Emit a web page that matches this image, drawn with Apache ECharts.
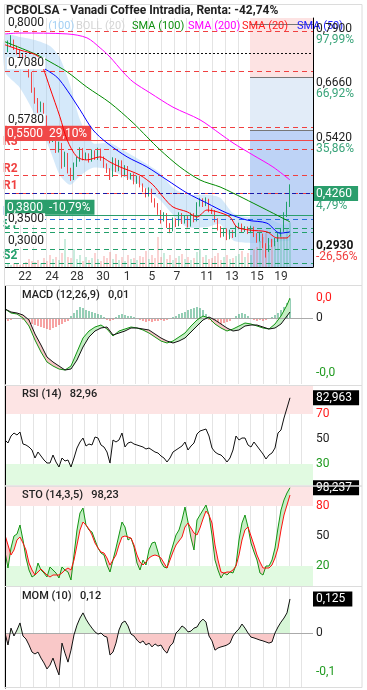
<!DOCTYPE html>
<html>
<head>
<meta charset="utf-8">
<script src="https://cdn.jsdelivr.net/npm/echarts@6/dist/echarts.min.js"></script>
<style>
html, body { margin: 0; padding: 0; background: #fff; }
#main { width: 367px; height: 690px; }
</style>
</head>
<body>
<div id="main"></div>
<script>
// etiquetas de días del eje x y su posición (en índice de vela)
const days = ['22', '24', '28', '30', '1', '5', '7', '11', '13', '15', '19'];
const dayPos = [6.7, 15.7, 24, 32.7, 40.7, 49, 57.3, 67.3, 75.7, 84, 92];

// velas: [apertura, cierre, mínimo, máximo]
const ohlc = [
  [0.730,0.738,0.724,0.745],[0.738,0.750,0.733,0.760],[0.750,0.756,0.745,0.772],[0.756,0.743,0.738,0.762],
  [0.743,0.734,0.728,0.748],[0.734,0.727,0.720,0.740],[0.727,0.720,0.714,0.731],[0.720,0.711,0.705,0.726],
  [0.711,0.681,0.675,0.716],[0.681,0.646,0.640,0.688],[0.646,0.623,0.615,0.652],[0.623,0.601,0.594,0.628],
  [0.601,0.612,0.596,0.620],[0.612,0.582,0.575,0.617],[0.582,0.555,0.548,0.588],[0.555,0.532,0.524,0.560],
  [0.532,0.543,0.527,0.552],[0.543,0.509,0.502,0.548],[0.509,0.520,0.503,0.528],[0.520,0.474,0.466,0.525],
  [0.474,0.497,0.470,0.505],[0.497,0.463,0.455,0.502],[0.463,0.445,0.438,0.468],[0.445,0.474,0.440,0.480],
  [0.474,0.486,0.470,0.493],[0.486,0.509,0.482,0.515],[0.509,0.490,0.485,0.513],[0.490,0.497,0.486,0.503],
  [0.497,0.486,0.480,0.501],[0.486,0.504,0.482,0.510],[0.504,0.490,0.486,0.508],[0.490,0.509,0.486,0.514],
  [0.509,0.490,0.484,0.512],[0.490,0.474,0.468,0.494],[0.474,0.463,0.456,0.478],[0.463,0.451,0.440,0.467],
  [0.451,0.486,0.447,0.492],[0.486,0.463,0.458,0.490],[0.463,0.481,0.460,0.486],[0.481,0.451,0.446,0.485],
  [0.451,0.468,0.448,0.474],[0.468,0.445,0.440,0.472],[0.445,0.451,0.441,0.456],[0.451,0.435,0.430,0.455],
  [0.435,0.445,0.431,0.450],[0.445,0.428,0.423,0.449],[0.428,0.417,0.412,0.432],[0.417,0.406,0.400,0.421],
  [0.406,0.417,0.402,0.423],[0.417,0.394,0.388,0.420],[0.394,0.383,0.377,0.398],[0.383,0.367,0.360,0.387],
  [0.367,0.348,0.340,0.371],[0.348,0.360,0.345,0.366],[0.360,0.337,0.330,0.364],[0.337,0.325,0.318,0.341],
  [0.325,0.348,0.322,0.354],[0.348,0.337,0.332,0.352],[0.337,0.360,0.334,0.366],[0.360,0.344,0.339,0.364],
  [0.344,0.353,0.340,0.358],[0.353,0.337,0.331,0.357],[0.337,0.360,0.333,0.365],[0.360,0.348,0.343,0.364],
  [0.348,0.383,0.345,0.389],[0.383,0.394,0.379,0.399],[0.394,0.383,0.378,0.398],[0.383,0.394,0.380,0.400],
  [0.394,0.371,0.366,0.397],[0.371,0.367,0.362,0.375],[0.367,0.348,0.343,0.371],[0.348,0.330,0.324,0.352],
  [0.330,0.314,0.308,0.334],[0.314,0.325,0.310,0.330],[0.325,0.307,0.302,0.329],[0.307,0.321,0.304,0.326],
  [0.321,0.312,0.307,0.325],[0.312,0.330,0.309,0.335],[0.330,0.337,0.327,0.342],[0.337,0.325,0.320,0.340],
  [0.325,0.330,0.321,0.334],[0.330,0.321,0.316,0.333],[0.321,0.330,0.318,0.335],[0.330,0.314,0.309,0.333],
  [0.314,0.302,0.296,0.318],[0.302,0.314,0.299,0.319],[0.314,0.291,0.284,0.317],[0.291,0.279,0.262,0.295],
  [0.279,0.302,0.275,0.307],[0.302,0.291,0.286,0.305],[0.291,0.302,0.288,0.307],[0.302,0.314,0.298,0.318],
  [0.314,0.325,0.310,0.330],[0.325,0.360,0.321,0.366],[0.360,0.383,0.355,0.390],[0.383,0.412,0.378,0.430]
];

const volume = [
  2,3,2,4,3,2,3,5,8,6,5,7,
  4,9,6,12,8,10,7,14,28,10,9,18,
  8,12,6,10,7,9,14,8,6,11,9,15,
  8,13,7,10,6,12,8,9,7,11,10,16,
  8,12,9,30,10,14,8,12,7,9,11,13,
  8,10,7,9,15,18,10,12,8,9,11,14,
  7,10,12,8,9,11,13,16,10,14,12,18,
  20,26,30,34,22,28,26,32,35,30,38,45
];

// medias móviles: [índice, valor]
const sma20 = [[0,0.750],[5,0.738],[11,0.724],[12.7,0.697],[15,0.651],[18.3,0.585],[20.7,0.532],[24,0.493],
  [27.3,0.486],[31.7,0.493],[35,0.481],[38.3,0.470],[45,0.451],[49.3,0.429],[52.7,0.401],[56,0.378],
  [60.7,0.367],[64,0.355],[67.3,0.371],[70.7,0.367],[75,0.355],[77.3,0.332],[81.7,0.325],[87.3,0.321],
  [90.7,0.307],[94,0.307],[95,0.314]];
const sma50 = [[12.7,0.697],[17.3,0.676],[20.7,0.646],[25,0.601],[29.3,0.555],[34,0.525],[40.7,0.493],
  [47.3,0.470],[54,0.440],[60.7,0.410],[67.3,0.387],[74,0.364],[80.7,0.348],[87.3,0.341],[91.7,0.318],[95,0.321]];
const sma100 = [[0,0.757],[10.7,0.727],[15,0.711],[20.7,0.688],[27.3,0.653],[35,0.617],[42.7,0.571],
  [47.3,0.539],[51.7,0.509],[58.3,0.470],[65,0.440],[71.7,0.424],[76,0.410],[82.7,0.387],[87.3,0.371],[95,0.344]];
const sma200 = [[0,0.775],[5,0.777],[20.7,0.775],[27.3,0.766],[31.7,0.743],[35,0.722],[39.3,0.688],
  [42.7,0.665],[48.3,0.640],[56,0.607],[65,0.578],[71.7,0.546],[76,0.525],[82.7,0.497],[89.3,0.470],[95,0.440]];

// bandas de Bollinger
const bollX = [0,5,10,15,18.3,21.7,25,29.3,35,39.3,45,51.7,56,60.7,67.3,71.7,76,80.7,87.3,92.7,95];
const bollUp = [0.773,0.768,0.761,0.747,0.720,0.658,0.578,0.525,0.525,0.509,0.486,0.456,0.422,0.406,0.406,0.399,0.364,0.355,0.353,0.337,0.341];
const bollLow = [0.688,0.651,0.589,0.509,0.451,0.429,0.449,0.468,0.463,0.449,0.429,0.394,0.360,0.332,0.332,0.339,0.302,0.296,0.296,0.300,0.302];

// niveles horizontales
const redDashLv = [0.7824, 0.6916, 0.5615];
const dotLv = [0.7267];
const tealDashLv = [0.3328, 0.2847];
const pivotTxt = ['R3', 'R2', 'R1', 'Pivot', 'S1', 'S2'];
const pivotLv = [0.5127, 0.4491, 0.4147, 0.3498, 0.3154, 0.2489];
const alertLv = [0.5333, 0.3636];
const alertTxt = ['0,5500  29,10%', '0,3800  -10,79%'];
const lastLv = 0.4108;
const lastTxt = ['0,4260', '4,79%'];
const fibLv = [0.7978, 0.6762, 0.5546];
const fibLabelLv = [0.79, 0.666, 0.542, 0.293];
const fibLabelTxt = [['0,7900', '97,99%'], ['0,6660', '66,92%'], ['0,5420', '35,86%'], ['0,2930', '-26,56%']];
const leftTicks = [0.8, 0.708, 0.578, 0.35, 0.3, 0.24];

// MACD (muestreado)
const macdIdx = [0,2,4,6,8,10,12,14,16,18,20,22,24,26,28,30,32,34,36,38,40,42,44,46,48,50,52,54,56,58,60,62,64,66,68,70,72,74,76,78,80,82,84,86,88,90,92,94,95];
const macdBlack = [0.009,0.006,0.005,0.003,-0.002,-0.016,-0.027,-0.039,-0.044,-0.048,
  -0.052,-0.051,-0.042,-0.029,-0.019,-0.013,-0.010,-0.009,-0.017,-0.015,
  -0.013,-0.010,-0.010,-0.011,-0.012,-0.016,-0.020,-0.023,-0.025,-0.023,
  -0.020,-0.014,-0.008,-0.002,0.001,-0.002,-0.006,-0.010,-0.013,-0.012,
  -0.008,-0.007,-0.007,-0.009,-0.011,-0.010,-0.006,0.002,0.006];
const macdGreen = [0.009,0.005,0.004,0.000,-0.008,-0.022,-0.034,-0.044,-0.048,-0.051,
  -0.052,-0.048,-0.034,-0.020,-0.013,-0.009,-0.007,-0.011,-0.018,-0.013,
  -0.011,-0.009,-0.010,-0.012,-0.015,-0.019,-0.023,-0.025,-0.023,-0.019,
  -0.015,-0.008,-0.002,0.002,0.000,-0.006,-0.010,-0.013,-0.011,-0.008,
  -0.005,-0.006,-0.008,-0.010,-0.011,-0.006,0.002,0.013,0.020];
const macdHist = [
  -0.002,-0.003,-0.002,-0.001,0,-0.001,-0.002,-0.003,-0.005,-0.006,-0.007,-0.008,
  -0.009,-0.010,-0.011,-0.012,-0.010,-0.009,-0.007,-0.006,-0.004,-0.003,0.002,0.005,
  0.008,0.011,0.010,0.008,0.007,0.006,0.005,0.004,0.003,0.001,-0.002,-0.003,
  -0.002,0.001,0.003,0.004,0.003,0.002,0.002,0.001,-0.001,-0.002,-0.003,-0.004,
  -0.003,-0.004,-0.003,-0.003,-0.002,-0.003,-0.002,-0.001,0.001,0.002,0.004,0.005,
  0.006,0.008,0.009,0.010,0.011,0.010,0.008,0.004,-0.002,-0.004,-0.006,-0.007,
  -0.006,-0.005,-0.004,-0.003,-0.001,0.002,0.004,0.005,0.004,0.002,-0.001,-0.002,
  -0.003,-0.002,-0.003,-0.002,-0.001,0.001,0.003,0.005,0.008,0.011,0.015,0.019
];

const rsi = [
  49.2,46.8,52.4,54.8,53.2,55.6,46,45.2,43.6,41.2,34.8,39.6,
  36.4,33.2,30.8,30.8,37.2,31.6,27.6,34.8,32.4,33.2,27.6,34.8,
  42.8,47.6,50.8,44.4,46,45.2,51.6,50.8,45.2,43.6,39.6,30.8,
  49.2,47.6,49.2,54.8,43.6,46.8,47.6,46,45.2,44.4,43.6,42,
  42.8,41.2,39.6,38.8,36.4,34.8,31.6,34.8,39.6,41.2,42.8,44.4,
  47.6,41.2,44.4,46.8,54,56.4,57.2,58,52.4,42.8,39.6,38,
  37.2,34.8,31.6,34.8,41.2,52.4,49.2,50.8,50.8,45.2,43.6,47.6,
  44.4,41.2,38,34,37.2,38.8,42.8,54.8,57.2,66.8,74.8,82.96
];

const stoK = [
  34,18,38,50,52,61,46,28,16,9,11,23,
  16,13,9,19,16,13,8,19,16,14,6,31,
  56,73,78,61,56,54,46,38,33,31,21,14,
  26,38,51,64,59,46,48,39,23,16,26,21,
  36,43,44,34,24,19,18,31,41,51,56,66,
  79,64,48,36,66,71,76,81,71,51,26,16,
  8,13,11,14,13,21,46,63,71,59,43,34,
  26,13,11,20,20,26,38,58,76,86,93,98.23
];
const stoD = [
  51,41,31,36,46,49,43,36,23,16,11,14,
  17,14,11,9,11,11,11,13,16,18,16,26,
  41,56,64,61,57,51,43,38,34,33,28,21,
  26,31,41,49,50,49,48,41,31,24,21,24,
  28,30,31,30,28,23,18,26,34,41,45,49,
  59,63,58,53,51,58,67,75,71,63,41,26,
  14,13,14,14,16,20,31,46,56,59,50,41,
  31,24,18,18,18,21,28,38,56,71,81,91
];

const mom = [
  0,-0.044,0.018,-0.011,0.011,0.037,-0.011,-0.022,-0.044,-0.070,-0.077,-0.070,
  -0.092,-0.110,-0.132,-0.118,-0.092,-0.125,-0.154,-0.037,-0.074,-0.107,-0.063,-0.007,
  0.029,0.055,0.074,0.051,0.033,0.018,0.004,-0.004,0,-0.011,-0.015,-0.081,
  -0.070,-0.037,0.011,0.037,0.044,0.026,-0.004,-0.011,-0.026,-0.037,-0.029,-0.044,
  -0.037,-0.051,-0.040,-0.048,-0.044,-0.063,-0.074,-0.048,-0.037,0,0.011,0.026,
  0.018,0.004,0.007,0.018,0.022,0.040,0.051,0.040,-0.011,-0.029,-0.063,-0.055,
  -0.051,-0.048,-0.044,-0.037,-0.011,0.004,0.015,0.033,0.018,0,-0.015,-0.018,
  -0.022,-0.026,-0.029,-0.033,-0.037,-0.033,0,0.022,0.040,0.055,0.074,0.125
];

// etiquetas de los ejes derechos de los indicadores
const macdTicks = [0.02, 0, -0.055], macdTickTxt = ['0,0', '0', '-0,0'], macdTickSty = ['r', 'n', 'g'];
const rsiTicks = [82.963, 70, 50, 30], rsiTickTxt = ['82,963', '70', '50', '30'], rsiTickSty = ['box', 'r', 'n', 'g'];
const stoTicks = [98.237, 80, 50, 20], stoTickTxt = ['98,237', '80', '50', '20'], stoTickSty = ['box', 'r', 'n', 'g'];
const momTicks = [0.125, 0, -0.144], momTickTxt = ['0,125', '0', '-0,1'], momTickSty = ['box', 'n', 'g'];

// ---------------------------------------------------------------
const FONT = 'Roboto, sans-serif';
const UP = '#22a06b', DN = '#f04848';
const xMax = 102.67;
const fibFrom = 81.67;
const pMin = 0.2404, pMax = 0.8115;

let vLines = [];
for (let k = 0; k < 23; k++) vLines.push(+(5.233 + k * 4.257).toFixed(3));

const rich = {
  n: {color: '#222', fontSize: 12, padding: [0, 0, 0, 3], fontFamily: FONT},
  r: {color: '#ff1a1a', fontSize: 12, padding: [0, 0, 0, 3], fontFamily: FONT},
  g: {color: '#1f9a1f', fontSize: 12, padding: [0, 0, 0, 3], fontFamily: FONT},
  box: {color: '#fff', backgroundColor: '#000', fontSize: 12, padding: [2, 7, 1, 3], fontFamily: FONT}
};

function xAx(g) {
  return {
    type: 'value', gridIndex: g, min: 0, max: xMax,
    axisLine: {show: g === 0, onZero: false, lineStyle: {color: '#000', width: 1}},
    axisTick: {show: false, customValues: vLines},
    splitLine: {show: true, lineStyle: {color: '#e4e4e4', width: 1}},
    axisLabel: g === 0 ? {
      show: true, customValues: dayPos, margin: 4, color: '#333', fontSize: 12, fontFamily: FONT,
      formatter: v => days[dayPos.indexOf(v)]
    } : {show: false}
  };
}

function yRight(g, min, max, ticks, txt, sty) {
  return {
    type: 'value', gridIndex: g, min: min, max: max, position: 'right', z: 10,
    axisLine: {show: true, lineStyle: {color: '#000', width: 1}},
    axisTick: {show: false},
    splitLine: {show: false},
    axisLabel: {
      customValues: ticks, margin: 0, rich: rich,
      formatter: v => { const k = ticks.indexOf(v); return '{' + sty[k] + '|' + txt[k] + '}'; }
    }
  };
}

// relleno entre dos líneas, color según cuál va encima
function fillBetween(xs, a, b, xi, yi, upColor, dnColor) {
  const segs = [];
  for (let k = 0; k + 1 < xs.length; k++) segs.push([xs[k], xs[k + 1], a[k], a[k + 1], b[k], b[k + 1]]);
  return {
    type: 'custom', xAxisIndex: xi, yAxisIndex: yi, silent: true, z: 2,
    data: segs, encode: {x: [0, 1], y: [2, 3, 4, 5]},
    renderItem: (params, api) => {
      const x0 = api.value(0), x1 = api.value(1), a0 = api.value(2), a1 = api.value(3), b0 = api.value(4), b1 = api.value(5);
      const d0 = a0 - b0, d1 = a1 - b1;
      const poly = (pts, c) => ({type: 'polygon', shape: {points: pts.map(p => api.coord(p))}, style: {fill: c, stroke: null}});
      if (d0 * d1 < 0) {
        const t = d0 / (d0 - d1);
        const xm = x0 + t * (x1 - x0), ym = a0 + t * (a1 - a0);
        return {type: 'group', children: [
          poly([[x0, a0], [xm, ym], [x0, b0]], d0 > 0 ? upColor : dnColor),
          poly([[xm, ym], [x1, a1], [x1, b1]], d1 > 0 ? upColor : dnColor)
        ]};
      }
      return poly([[x0, a0], [x1, a1], [x1, b1], [x0, b0]], (d0 + d1) >= 0 ? upColor : dnColor);
    }
  };
}

const idx = ohlc.map((d, i) => i);
const pairs = arr => arr.map((v, i) => [i, v]);
const line = (data, color, xi, yi, extra) => Object.assign({
  type: 'line', data: data, xAxisIndex: xi, yAxisIndex: yi, symbol: 'none', silent: true,
  lineStyle: {color: color, width: 1}, z: 5
}, extra || {});

// niveles del gráfico principal
let levels = [];
redDashLv.forEach(v => levels.push({yAxis: v, lineStyle: {color: '#f04040', type: [5, 4], width: 1}}));
dotLv.forEach(v => levels.push({yAxis: v, lineStyle: {color: '#111', type: [2, 2], width: 1}}));
tealDashLv.forEach(v => levels.push({yAxis: v, lineStyle: {color: '#22a06b', type: [5, 4], width: 1}}));
pivotLv.forEach((v, k) => {
  const c = k < 3 ? '#f04040' : (k === 3 ? '#2a6fdb' : '#22a06b');
  levels.push({yAxis: v, lineStyle: {color: c, type: [5, 4], width: 1},
    label: {show: true, position: 'insideStartTop', distance: [-2, 1], formatter: pivotTxt[k],
      color: c, fontSize: 12, fontWeight: 'bold', fontFamily: FONT}});
});
alertLv.forEach((v, k) => {
  const c = k === 0 ? '#f04848' : '#2b9e6c';
  levels.push({yAxis: v, lineStyle: {color: c, type: 'solid', width: 1},
    label: {show: true, position: 'insideStartTop', distance: [0, 0], formatter: alertTxt[k],
      color: '#fff', backgroundColor: c, padding: [2, 4, 1, 2], fontSize: 12, fontFamily: FONT}});
});
fibLv.forEach(v => levels.push([{coord: [fibFrom, v], lineStyle: {color: '#777', type: 'solid', width: 1}}, {coord: [xMax, v]}]));

const series = [
  // zonas de Fibonacci
  {type: 'line', data: [], xAxisIndex: 0, yAxisIndex: 0, z: 0, silent: true,
    markArea: {silent: true, data: [
      [{coord: [fibFrom, 0.6762], itemStyle: {color: '#fde3e3'}}, {coord: [xMax, pMax]}],
      [{coord: [fibFrom, 0.5546], itemStyle: {color: '#e2ecf8'}}, {coord: [xMax, 0.6762]}],
      [{coord: [fibFrom, pMin], itemStyle: {color: '#bed3f6'}}, {coord: [xMax, 0.5546]}]
    ]}},
  // Bollinger: polígono entre banda superior e inferior
  {name: 'BOLL (20)', type: 'custom', xAxisIndex: 0, yAxisIndex: 0, silent: true, z: 1,
    data: bollX.map((x, k) => [x, bollUp[k], bollLow[k]]), encode: {x: 0, y: [1, 2]},
    renderItem: (params, api) => {
      if (params.dataIndex !== 0) return null;
      const up = bollX.map((x, k) => api.coord([x, bollUp[k]]));
      const lo = bollX.map((x, k) => api.coord([x, bollLow[k]])).reverse();
      return {type: 'polygon', shape: {points: up.concat(lo), smooth: 0.25},
        style: {fill: 'rgba(150,200,242,0.4)', stroke: null}};
    }},
  // volumen
  {type: 'bar', data: pairs(volume), xAxisIndex: 0, yAxisIndex: 2, barWidth: 1, silent: true, z: 2,
    itemStyle: {color: p => ohlc[p.dataIndex][1] >= ohlc[p.dataIndex][0] ? 'rgba(40,180,120,0.5)' : 'rgba(240,80,80,0.5)'}},
  // niveles
  {type: 'line', data: [], xAxisIndex: 0, yAxisIndex: 0, z: 3, silent: true,
    markLine: {silent: true, symbol: ['none', 'none'], animation: false, label: {show: false}, data: levels}},
  // velas
  {type: 'candlestick', data: ohlc.map((d, i) => [i, d[0], d[1], d[2], d[3]]), encode: {x: 0, y: [1, 2, 3, 4]},
    xAxisIndex: 0, yAxisIndex: 0, barWidth: 1, silent: true, z: 4,
    itemStyle: {color: UP, color0: DN, borderColor: UP, borderColor0: DN, borderWidth: 1}},
  line(sma200, '#ff00ff', 0, 0, {smooth: 0.3}),
  line(sma100, '#008a00', 0, 0, {smooth: 0.3}),
  line(sma50, '#0000ff', 0, 0, {smooth: 0.3}),
  line(sma20, '#ff0000', 0, 0, {smooth: 0.3}),
  // último precio
  {type: 'line', data: [], xAxisIndex: 0, yAxisIndex: 0, z: 8, silent: true,
    markLine: {silent: true, symbol: ['none', 'none'], animation: false, data: [
      {yAxis: lastLv, lineStyle: {color: '#1a1aa8', type: [4, 3], width: 1},
        label: {show: true, position: 'end', distance: 0, padding: [12, 0, 0, 0],
          formatter: '{box|' + lastTxt[0] + '}\n{p|' + lastTxt[1] + '}',
          rich: {
            box: {color: '#fff', backgroundColor: '#2b9e6c', fontSize: 12, padding: [2, 6, 1, 3], fontFamily: FONT, lineHeight: 14},
            p: {color: '#3aa47a', fontSize: 12, padding: [0, 0, 0, 3], fontFamily: FONT, lineHeight: 11}
          }}}
    ]}},

  // MACD
  fillBetween(macdIdx, macdGreen, macdBlack, 1, 3, '#c4efc4', '#f7c6c6'),
  {type: 'bar', data: pairs(macdHist), xAxisIndex: 1, yAxisIndex: 3, barWidth: 1, silent: true, z: 1,
    itemStyle: {color: p => p.value[1] >= 0 ? '#2b9e6c' : '#f04848'}},
  {type: 'line', data: [], xAxisIndex: 1, yAxisIndex: 3, z: 1, silent: true,
    markLine: {silent: true, symbol: ['none', 'none'], animation: false, label: {show: false},
      data: [{yAxis: 0, lineStyle: {color: '#aaa', type: 'solid', width: 1}}]}},
  line(macdIdx.map((x, k) => [x, macdGreen[k]]), '#139413', 1, 3),
  line(macdIdx.map((x, k) => [x, macdBlack[k]]), '#111', 1, 3),

  // RSI
  {type: 'line', data: [], xAxisIndex: 2, yAxisIndex: 4, z: 0, silent: true,
    markArea: {silent: true, data: [
      [{yAxis: 70, itemStyle: {color: '#fde4e4'}}, {yAxis: 92.4}],
      [{yAxis: 13.2, itemStyle: {color: '#e1fae1'}}, {yAxis: 30}]
    ]}},
  line(pairs(rsi), '#111', 2, 4),

  // Estocástico
  {type: 'line', data: [], xAxisIndex: 3, yAxisIndex: 5, z: 0, silent: true,
    markArea: {silent: true, data: [
      [{yAxis: 80, itemStyle: {color: '#fde4e4'}}, {yAxis: 100}],
      [{yAxis: 0, itemStyle: {color: '#e1fae1'}}, {yAxis: 20}]
    ]}},
  fillBetween(idx, stoK, stoD, 3, 5, '#c4efc4', '#f7c6c6'),
  line(pairs(stoK), '#139413', 3, 5),
  line(pairs(stoD), '#ff1010', 3, 5),

  // Momentum
  fillBetween(idx, mom, mom.map(() => 0), 4, 6, '#d7f6d7', '#f9c8c8'),
  {type: 'line', data: [], xAxisIndex: 4, yAxisIndex: 6, z: 1, silent: true,
    markLine: {silent: true, symbol: ['none', 'none'], animation: false, label: {show: false},
      data: [{yAxis: 0, lineStyle: {color: '#aaa', type: 'solid', width: 1}}]}},
  line(pairs(mom), '#111', 4, 6)
];

const ttl = (text, left, top, style) => ({
  text: text, left: left, top: top, padding: 0,
  textStyle: Object.assign({fontSize: 11, fontWeight: 'normal', color: '#222', fontFamily: FONT}, style || {})
});

const option = {
  animation: false,
  textStyle: {fontFamily: FONT},
  title: [
    ttl('PCBOLSA - Vanadi Coffee Intradia, Renta: -42,74%', 6, 5, {fontSize: 12, fontWeight: 'bold', color: '#222'}),
    ttl('SMA (100)', 22, 21, {color: '#a4d0f4'}),
    ttl('BOLL (20)', 76, 21, {color: '#d4d4d4'}),
    ttl('SMA (100)', 132, 21, {color: '#109010'}),
    ttl('SMA (200)', 188, 21, {color: '#ff00ff'}),
    ttl('SMA (20)', 242, 21, {color: '#ff2020'}),
    ttl('SMA (50)', 297, 21, {color: '#2020ff'}),
    ttl('MACD (12,26,9)   0,01', 22, 290, {fontWeight: 500}),
    ttl('RSI (14)   82,96', 22, 389, {fontWeight: 500}),
    ttl('STO (14,3,5)   98,23', 22, 490, {fontWeight: 500}),
    ttl('MOM (10)   0,12', 22, 591, {fontWeight: 500})
  ],
  grid: [
    {left: 5, top: 18, width: 308, height: 249},
    {left: 5, top: 286, width: 308, height: 98},
    {left: 5, top: 386, width: 308, height: 99},
    {left: 5, top: 486, width: 308, height: 100},
    {left: 5, top: 587, width: 308, height: 101}
  ],
  xAxis: [xAx(0), xAx(1), xAx(2), xAx(3), xAx(4)],
  yAxis: [
    {type: 'value', gridIndex: 0, min: pMin, max: pMax, position: 'left', z: 10,
      axisLine: {show: false}, axisTick: {show: false}, splitLine: {show: false},
      axisLabel: {inside: true, customValues: leftTicks, margin: 2, color: '#222', fontSize: 12,
        backgroundColor: '#fff', padding: [0, 1], fontFamily: FONT,
        formatter: v => v.toFixed(4).replace('.', ',')}},
    {type: 'value', gridIndex: 0, min: pMin, max: pMax, position: 'right', z: 10,
      axisLine: {show: true, lineStyle: {color: '#000', width: 1}}, axisTick: {show: false}, splitLine: {show: false},
      axisLabel: {customValues: fibLabelLv, margin: 0, padding: [15, 0, 0, 0],
        formatter: v => {
          const k = fibLabelLv.indexOf(v);
          const t = fibLabelTxt[k];
          return (k === 3 ? '{b|' : '{v|') + t[0] + '}\n' + (t[1].charAt(0) === '-' ? '{pr|' : '{pg|') + t[1] + '}';
        },
        rich: {
          v: {color: '#222', fontSize: 12, lineHeight: 11, padding: [0, 0, 0, 3], fontFamily: FONT},
          b: {color: '#111', fontSize: 12, fontWeight: 'bold', lineHeight: 11, padding: [0, 0, 0, 3], fontFamily: FONT},
          pg: {color: '#3aa47a', fontSize: 12, lineHeight: 11, padding: [0, 0, 0, 3], fontFamily: FONT},
          pr: {color: '#f04040', fontSize: 12, lineHeight: 11, padding: [0, 0, 0, 3], fontFamily: FONT}
        }}},
    {type: 'value', gridIndex: 0, min: 0, max: 250, show: false},
    yRight(1, -0.066, 0.032, macdTicks, macdTickTxt, macdTickSty),
    yRight(2, 13.2, 92.4, rsiTicks, rsiTickTxt, rsiTickSty),
    yRight(3, 0, 100, stoTicks, stoTickTxt, stoTickSty),
    yRight(4, -0.202, 0.169, momTicks, momTickTxt, momTickSty)
  ],
  graphic: [
    {type: 'rect', silent: true, z: 100, shape: {x: 4.5, y: 4.5, width: 357.5, height: 281}, style: {fill: 'none', stroke: '#dcdcdc', lineWidth: 1}},
    {type: 'rect', silent: true, z: 100, shape: {x: 4.5, y: 285.5, width: 357.5, height: 100}, style: {fill: 'none', stroke: '#dcdcdc', lineWidth: 1}},
    {type: 'rect', silent: true, z: 100, shape: {x: 4.5, y: 385.5, width: 357.5, height: 100.5}, style: {fill: 'none', stroke: '#dcdcdc', lineWidth: 1}},
    {type: 'rect', silent: true, z: 100, shape: {x: 4.5, y: 486, width: 357.5, height: 100.5}, style: {fill: 'none', stroke: '#dcdcdc', lineWidth: 1}},
    {type: 'rect', silent: true, z: 100, shape: {x: 4.5, y: 586.5, width: 357.5, height: 101}, style: {fill: 'none', stroke: '#dcdcdc', lineWidth: 1}}
  ],
  series: series
};

const chart = echarts.init(document.getElementById('main'));
chart.setOption(option);
</script>
</body>
</html>
